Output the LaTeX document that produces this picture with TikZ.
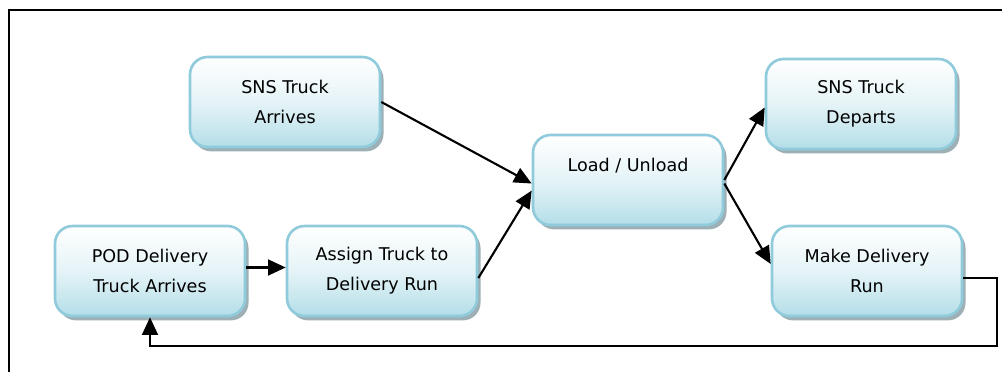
\documentclass[tikz,border=0pt]{standalone}
\usepackage{fontspec}
\setmainfont{DejaVu Sans}
\usepackage{tikz}
\usetikzlibrary{shapes, arrows.meta, shadows}

\definecolor{boxline}{HTML}{8FCBDB}
\definecolor{boxfill}{HTML}{B4DEE8}
\definecolor{boxshadow}{HTML}{9DB0B6}

\begin{document}
\begin{tikzpicture}[
        step box/.style = {draw=boxline, line width=1.5pt, rounded corners=10pt,
                top color=white, bottom color=boxfill, middle color=white!65!boxfill,
                minimum width=3.8cm, minimum height=1.8cm, align=center,
                font=\fontsize{10}{17}\selectfont,
                drop shadow={shadow xshift=2pt, shadow yshift=-2.5pt, fill=boxshadow, opacity=1}},
        flow/.style = {line width=1.2pt, -{Triangle[length=10pt, width=9pt]}}]
                \useasboundingbox (0,0) rectangle (20.04,7.44);

                % frame around the chart
                \draw[line width=1.2pt] (0.18,0) -- (0.18,7.24) -- (20.04,7.24);

                \node[step box] at (5.7, 5.4) (arrive) {SNS Truck\\Arrives};
                \node[step box] at (12.56, 3.84) (load) {Load / Unload\\\mbox{}};
                \node[step box] at (17.22, 5.36) (depart) {SNS Truck\\Departs};
                \node[step box] at (3.0, 2.02) (pod) {POD Delivery\\Truck Arrives};
                \node[step box] at (7.64, 2.02) (assign) {Assign Truck to\\Delivery Run};
                \node[step box] at (17.34, 2.02) (run) {Make Delivery\\Run};

                \coordinate (back) at (19.94, 0.52);

                \draw[flow] (arrive.east) -- ([yshift=-2pt]load.west);
                \draw[flow] ([yshift=-4pt]assign.east) -- ([yshift=-6pt]load.west);
                \draw[flow] (load.east) -- ([yshift=-2pt]depart.west);
                \draw[flow] ([yshift=-2pt]load.east) -- ([yshift=4pt]run.west);
                \draw[flow] ([yshift=2pt]pod.east) -- ([yshift=2pt]assign.west);

                % delivery run comes back round to the POD
                \draw[flow] ([yshift=-4pt]run.east) -| (back) -| (pod.south);
            \end{tikzpicture}
\end{document}
